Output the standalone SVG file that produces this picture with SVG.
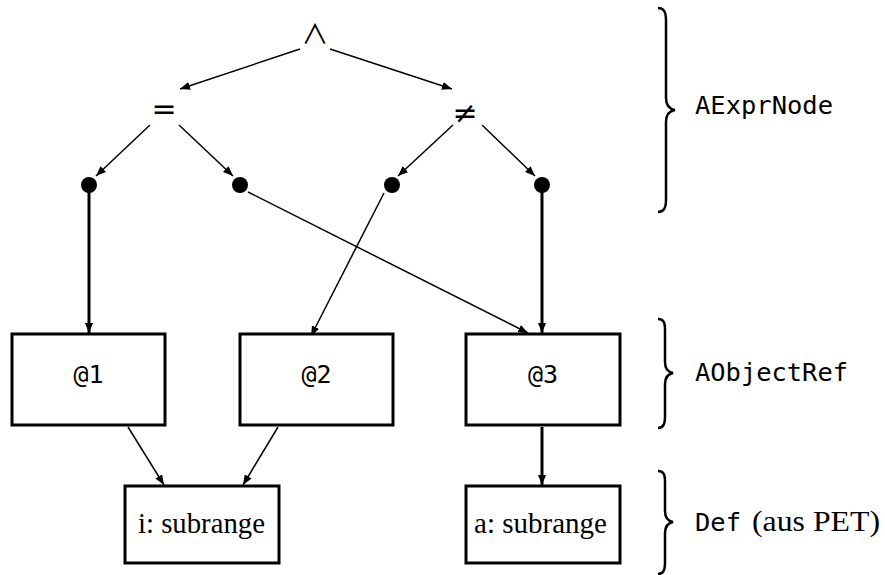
<svg xmlns="http://www.w3.org/2000/svg" width="885" height="575" viewBox="0 0 885 575">
  <defs>
    <marker id="arr" viewBox="0 0 10 8" refX="10" refY="4" markerWidth="10" markerHeight="8" markerUnits="userSpaceOnUse" orient="auto">
      <path d="M0,0 L10,4 L0,8 Z" fill="#000"/>
    </marker>
  </defs>
  <style>
    .op { font-family: "DejaVu Sans", sans-serif; text-anchor: middle; fill: #000; }
    .wedge { font-family: "Noto Sans CJK JP", "DejaVu Sans", sans-serif; text-anchor: middle; fill: #000; }
    .tt { font-family: "DejaVu Sans Mono", "Liberation Mono", monospace; fill: #000; }
    .rm { font-family: "Liberation Serif", "DejaVu Serif", serif; fill: #000; }
    .box { fill: #fff; stroke: #000; stroke-width: 3; }
    .thin { stroke: #000; stroke-width: 1.5; fill: none; }
    .thick { stroke: #000; stroke-width: 3; fill: none; }
    .brace { stroke: #000; stroke-width: 2.5; fill: none; }
    .dot { fill: #000; }
  </style>

  <!-- connectors -->
  <g id="edges">
    <line class="thin" x1="300" y1="49" x2="180" y2="89" marker-end="url(#arr)"/>
    <line class="thin" x1="330" y1="49" x2="452" y2="89" marker-end="url(#arr)"/>
    <line class="thin" x1="150" y1="125" x2="96" y2="176" marker-end="url(#arr)"/>
    <line class="thin" x1="179" y1="125" x2="233" y2="176" marker-end="url(#arr)"/>
    <line class="thin" x1="453" y1="125" x2="398" y2="176" marker-end="url(#arr)"/>
    <line class="thin" x1="482" y1="125" x2="535" y2="176" marker-end="url(#arr)"/>
    <line class="thick" x1="89" y1="190" x2="89" y2="333" marker-end="url(#arr)"/>
    <line class="thin" x1="248" y1="192" x2="528" y2="333" marker-end="url(#arr)"/>
    <line class="thin" x1="384" y1="193" x2="311" y2="336" marker-end="url(#arr)"/>
    <line class="thick" x1="542" y1="190" x2="542" y2="333" marker-end="url(#arr)"/>
    <line class="thin" x1="128" y1="427" x2="164" y2="485" marker-end="url(#arr)"/>
    <line class="thin" x1="278" y1="427" x2="243" y2="485" marker-end="url(#arr)"/>
    <line class="thick" x1="542" y1="427" x2="542" y2="485" marker-end="url(#arr)"/>
  </g>

  <!-- expression operators -->
  <g id="and"><text class="wedge" x="315" y="44" font-size="27">∧</text></g>
  <g id="eq"><text class="op" x="164" y="119" font-size="30">=</text></g>
  <g id="neq"><text class="op" x="465" y="123" font-size="30">≠</text></g>

  <!-- operand slots -->
  <g id="slot1"><circle class="dot" cx="89" cy="185" r="8"/></g>
  <g id="slot2"><circle class="dot" cx="240" cy="185" r="8"/></g>
  <g id="slot3"><circle class="dot" cx="392" cy="185" r="8"/></g>
  <g id="slot4"><circle class="dot" cx="542" cy="185" r="8"/></g>

  <!-- object references -->
  <g id="ref1"><rect class="box" x="12" y="334" width="153" height="91"/><text class="tt" x="88.5" y="383" font-size="25" text-anchor="middle">@1</text></g>
  <g id="ref2"><rect class="box" x="240" y="334" width="153" height="91"/><text class="tt" x="316.5" y="383" font-size="25" text-anchor="middle">@2</text></g>
  <g id="ref3"><rect class="box" x="466" y="334" width="154" height="91"/><text class="tt" x="543" y="383" font-size="25" text-anchor="middle">@3</text></g>

  <!-- definitions -->
  <g id="def-i"><rect class="box" x="125" y="486" width="154" height="77"/><text class="rm" x="138" y="533" font-size="29" textLength="127" lengthAdjust="spacingAndGlyphs">i: subrange</text></g>
  <g id="def-a"><rect class="box" x="466" y="486" width="154" height="77"/><text class="rm" x="474" y="533" font-size="29" textLength="133" lengthAdjust="spacingAndGlyphs">a: subrange</text></g>

  <!-- layer braces and labels -->
  <g id="layer-expr">
    <path class="brace" d="M658,8 C664,8 666,12 666,20 L666,98 C666,105 669,109 675,110 C669,111 666,115 666,122 L666,200 C666,208 664,212 658,212"/>
    <text class="tt" x="695" y="114" font-size="25" textLength="138" lengthAdjust="spacingAndGlyphs">AExprNode</text>
  </g>
  <g id="layer-ref">
    <path class="brace" d="M658,319 C664,319 665,323 665,330 L665,362 C665,368 668,372 673,373 C668,374 665,378 665,384 L665,416 C665,423 664,428 658,428"/>
    <text class="tt" x="695" y="381" font-size="25" textLength="153" lengthAdjust="spacingAndGlyphs">AObjectRef</text>
  </g>
  <g id="layer-def">
    <path class="brace" d="M658,471 C664,471 665,475 665,482 L665,511 C665,517 668,521 673,522 C668,523 665,527 665,533 L665,562 C665,569 664,574 658,574"/>
    <text class="tt" x="695" y="531" font-size="25" textLength="46" lengthAdjust="spacingAndGlyphs">Def</text>
    <text class="rm" x="752" y="531" font-size="29" textLength="128" lengthAdjust="spacingAndGlyphs">(aus PET)</text>
  </g>
</svg>
